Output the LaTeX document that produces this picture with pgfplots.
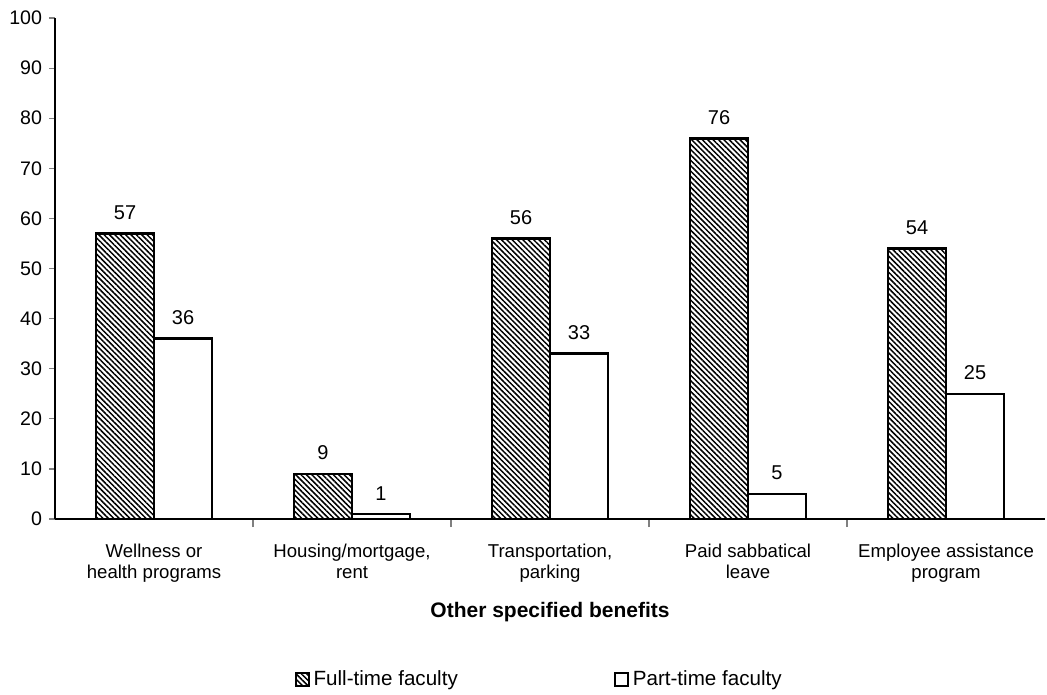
\documentclass[border=0pt]{standalone}
\usepackage{fontspec}
\setmainfont{Liberation Sans}
\usepackage{pgfplots}
\pgfplotsset{compat=1.18}
\usetikzlibrary{patterns.meta}
\begin{document}
\begin{tikzpicture}
\begin{axis}[
  scale only axis, width=495pt, height=250.5pt,
  xmin=-0.5, xmax=4.5, ymin=0, ymax=100,
  axis x line*=bottom, axis y line*=left,
  axis line style={-, line width=0.8pt},
  ybar=0pt, bar width=29pt,
  xtick={0,1,2,3,4},
  xticklabels={{Wellness or\\health programs}, {Housing/mortgage,\\rent}, {Transportation,\\parking}, {Paid sabbatical\\leave}, {Employee assistance\\program}},
  major x tick style={draw=none},
  minor xtick={0.5,1.5,2.5,3.5},
  minor x tick style={line width=0.6pt},
  minor tick length=4pt,
  major tick length=3pt,
  tick align=outside,
  ytick={0,10,...,100},
  ytick style={line width=0.6pt},
  xticklabel style={align=center, font=\fontsize{9.3}{10.3}\selectfont, yshift=-6pt},
  yticklabel style={font=\fontsize{9.8}{11}\selectfont},
  /pgf/number format/assume math mode=true,
  xlabel={\textbf{Other specified benefits}},
  xlabel style={font=\fontsize{10.5}{12}\selectfont, at={(axis description cs:0.5,-0.186)}, anchor=center},
  nodes near coords,
  every node near coord/.append style={font=\fontsize{10}{11}\selectfont, yshift=3pt},
  legend style={at={(axis description cs:0.49,-0.32)}, anchor=center, legend columns=2, draw=none, font=\fontsize{10.3}{12}\selectfont,
    /tikz/every even column/.append style={column sep=76pt}},
  legend image code/.code={\draw[#1, line width=1pt] (0pt,-3.2pt) rectangle (6.5pt,3.3pt);},
]
\addplot[draw=black, line width=1.4pt, pattern={Lines[angle=-45, distance=1.9pt, line width=0.75pt]}] coordinates {(0,57) (1,9) (2,56) (3,76) (4,54)};
\addplot[draw=black, fill=white, line width=1.2pt] coordinates {(0,36) (1,1) (2,33) (3,5) (4,25)};
\legend{Full-time faculty, Part-time faculty}
\coordinate (bl) at (axis description cs:-0.0556,-0.351);
\coordinate (tr) at (axis description cs:1.002,1.036);
\end{axis}
\pgfresetboundingbox
\path (bl) rectangle (tr);
\end{tikzpicture}
\end{document}
